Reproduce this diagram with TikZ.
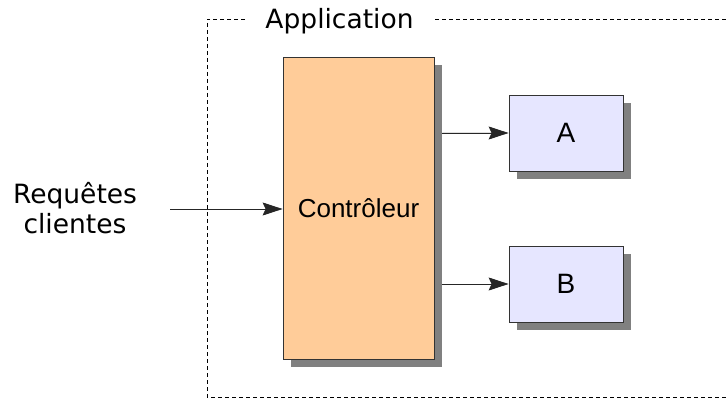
\documentclass[tikz,border=0pt]{standalone}
\usepackage{fontspec}
\setmainfont{DejaVu Sans}
\newfontfamily\arialfont{Liberation Sans}
\usetikzlibrary{shadows,arrows.meta}

\definecolor{ctrlfill}{HTML}{FFCC99}
\definecolor{modfill}{HTML}{E6E6FF}
\definecolor{shadowgray}{HTML}{808080}

\tikzset{
  shadowed/.style={draw=black!80, line width=0.8pt, inner sep=0pt,
    drop shadow={shadow xshift=8pt, shadow yshift=-8pt, fill=shadowgray, opacity=1}},
  ctrlbox/.style={shadowed, fill=ctrlfill, minimum width=151pt, minimum height=302pt,
    font=\arialfont\fontsize{26}{30}\selectfont},
  modbox/.style={shadowed, fill=modfill, minimum width=114pt, minimum height=76pt,
    font=\arialfont\fontsize{28}{32}\selectfont},
  arr/.style={-{Stealth[length=20pt,width=13pt,inset=3pt]}, line width=0.8pt, draw=black!85, fill=black},
  frame/.style={dash pattern=on 4pt off 3pt, line width=0.9pt},
  label/.style={font=\fontsize{26.5}{30}\selectfont, align=center, inner sep=0pt}
}

\begin{document}
\begin{tikzpicture}[x=1pt,y=-1pt]
  \useasboundingbox (0,0) rectangle (727,398);

  % application frame, open towards the right, gap for the title
  \draw[frame] (245,19) -- (207,19) -- (207,397) -- (730,397);
  \draw[frame] (435,19) -- (730,19);
  \node[label, anchor=base] (title) at (339.5,29) {Application};

  % components
  \node[ctrlbox] (ctrl) at (358.5,208) {Contrôleur};
  \node[modbox] (a) at (566,133) {A};
  \node[modbox] (b) at (566,284) {B};

  % incoming requests
  \node[label] (req) at (75,208) {Requêtes\\clientes};
  \coordinate (reqend) at (170,209);

  % connectors
  \draw[arr] (reqend) -- (reqend -| ctrl.west);
  \draw[arr] ([xshift=8pt]ctrl.east |- a.west) -- (a.west);
  \draw[arr] ([xshift=8pt]ctrl.east |- b.west) -- (b.west);
\end{tikzpicture}
\end{document}
